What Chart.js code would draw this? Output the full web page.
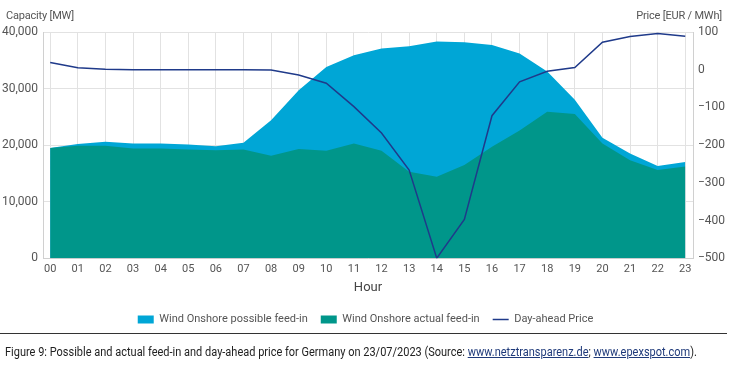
<!DOCTYPE html>
<html>
<head>
<meta charset="utf-8">
<script src="https://cdn.jsdelivr.net/npm/chart.js@4.4.0/dist/chart.umd.min.js"></script>
<style>
  html, body { margin: 0; padding: 0; background: #fff; }
  body { width: 731px; height: 383px; position: relative; overflow: hidden;
         font-family: Roboto, 'Open Sans', sans-serif; }
  #wrap { position: absolute; left: 0; top: 0; width: 731px; height: 335px; }
  .axt { position: absolute; top: 9px; font-size: 11px; color: #555; white-space: nowrap; letter-spacing: -0.2px; }
  #lt { left: 6px; }
  #rt { right: 9px; }
  #rule { position: absolute; left: 0; top: 333px; width: 727px; height: 0; border-top: 1px solid #333; }
  #cap { position: absolute; left: 5px; top: 344px; font-size: 12.5px; color: #222; white-space: nowrap; transform-origin: 0 0; }
  #cap a { color: #1f3a7a; text-decoration: underline; }
</style>
</head>
<body>
<div id="wrap"><canvas id="c"></canvas></div>
<div class="axt" id="lt">Capacity [MW]</div>
<div class="axt" id="rt">Price [EUR / MWh]</div>
<div id="rule"></div>
<div id="cap">Figure 9: Possible and actual feed-in and day-ahead price for Germany on 23/07/2023 (Source: <a>www.netztransparenz.de</a>; <a>www.epexspot.com</a>).</div>
<script>
const hours = ['00','01','02','03','04','05','06','07','08','09','10','11','12','13','14','15','16','17','18','19','20','21','22','23'];
const possibleFeedIn = [19500,20200,20600,20300,20300,20100,19800,20400,24400,29700,33800,35900,37100,37500,38300,38200,37700,36200,33000,28000,21300,18500,16300,17000];
const actualFeedIn   = [19500,19900,19900,19400,19400,19200,19100,19200,18100,19300,19000,20300,19000,15300,14400,16500,19700,22600,25900,25500,20300,17300,15600,16200];
const dayAheadPrice  = [19,5,1,0,0,0,0,0,-1,-14,-36,-98,-168,-266,-500,-397,-122,-32,-4,6,73,88,96,89];
const capacityTicks = [0,10000,20000,30000,40000];
const priceTicks = [-500,-400,-300,-200,-100,0,100];

const cap = document.getElementById('cap');
cap.style.transform = 'scaleX(' + (692 / cap.offsetWidth) + ')';

const toXY = arr => arr.map((v,i)=>({x:i,y:v}));
const FONT = "Roboto, 'Open Sans', sans-serif";

new Chart(document.getElementById('c'), {
  type: 'line',
  data: {
    datasets: [
      { label: 'Wind Onshore possible feed-in', data: toXY(possibleFeedIn), yAxisID: 'y',
        backgroundColor: '#00a6d6', borderColor: '#00a6d6', borderWidth: 0, fill: 'origin',
        pointRadius: 0, tension: 0, order: 2, pointStyle: 'rect' },
      { label: 'Wind Onshore actual feed-in', data: toXY(actualFeedIn), yAxisID: 'y',
        backgroundColor: '#00968a', borderColor: '#00968a', borderWidth: 0, fill: 'origin',
        pointRadius: 0, tension: 0, order: 1, pointStyle: 'rect' },
      { label: 'Day-ahead Price', data: toXY(dayAheadPrice), yAxisID: 'y2',
        borderColor: '#1f3a8a', backgroundColor: '#1f3a8a', borderWidth: 1.5, fill: false,
        pointRadius: 0, tension: 0, order: 0, pointStyle: 'line' }
    ]
  },
  options: {
    responsive: true, maintainAspectRatio: false, animation: false,
    layout: { padding: { top: 32, left: 0, right: 0, bottom: 0 } },
    plugins: {
      tooltip: { enabled: false },
      legend: {
        position: 'bottom',
        labels: {
          usePointStyle: true, pointStyleWidth: 16, boxHeight: 8,
          color: '#555', font: { family: FONT, size: 11 }, padding: 13,
          sort: (a,b) => a.datasetIndex - b.datasetIndex
        }
      }
    },
    scales: {
      x: {
        type: 'linear', min: -0.26, max: 23.28,
        afterBuildTicks: s => { s.ticks = hours.map((h,i)=>({value:i})); },
        ticks: { stepSize: 1, autoSkip: false, maxRotation: 0, padding: 4,
                 color: '#555', font: { family: FONT, size: 11 },
                 callback: v => hours[v] },
        grid: { color: '#e2e2e2', drawTicks: false },
        border: { color: '#d0d0d0' },
        title: { display: true, text: 'Hour', color: '#444', font: { family: FONT, size: 13 }, padding: { top: 1, bottom: 5 } }
      },
      y: {
        position: 'left', min: 0, max: 40000,
        afterBuildTicks: s => { s.ticks = capacityTicks.map(v=>({value:v})); },
        afterFit: s => { s.width = 43; },
        ticks: { color: '#555', font: { family: FONT, size: 12 }, padding: 5,
                 callback: v => v.toLocaleString('en-US') },
        grid: { color: '#e2e2e2', drawTicks: false },
        border: { color: '#d0d0d0' }
      },
      y2: {
        position: 'right', min: -500, max: 100,
        afterBuildTicks: s => { s.ticks = priceTicks.map(v=>({value:v})); },
        afterFit: s => { s.width = 38; },
        ticks: { color: '#555', font: { family: FONT, size: 12 }, padding: 5,
                 callback: v => (v < 0 ? '\u2212' + Math.abs(v) : String(v)) },
        grid: { drawOnChartArea: false, drawTicks: false },
        border: { color: '#d0d0d0' }
      }
    }
  }
});
</script>
</body>
</html>
